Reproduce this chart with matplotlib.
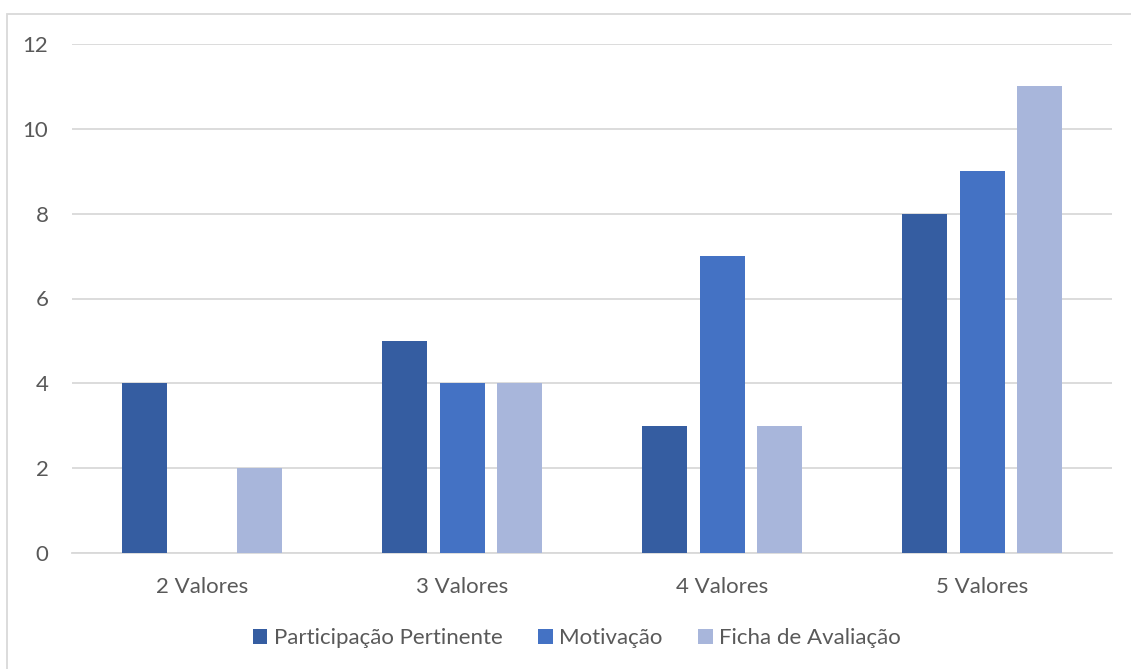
import matplotlib
matplotlib.use("Agg")
import matplotlib.pyplot as plt
from matplotlib.patches import Rectangle
import numpy as np

categories = ["2 Valores", "3 Valores", "4 Valores", "5 Valores"]
series_names = ["Participação Pertinente", "Motivação", "Ficha de Avaliação"]
participacao = [4, 5, 3, 8]
motivacao = [0, 4, 7, 9]
ficha = [2, 4, 3, 11]
yticks = [0, 2, 4, 6, 8, 10, 12]

colors = ["#355DA1", "#4472C4", "#A8B6DB"]
plt.rcParams['font.family'] = ['Lato', 'DejaVu Sans']

fig = plt.figure(figsize=(11.31, 6.69), dpi=100)
ax = fig.add_axes([72/1131, 116/669, 1040/1131, 509/669])

x = np.arange(len(categories))
w = 45/260
step = 57.5/260
for i, (vals, name) in enumerate(zip([participacao, motivacao, ficha], series_names)):
    ax.bar(x + (i - 1) * step, vals, width=w, color=colors[i], label=name, zorder=3)

ax.set_xlim(-0.5, 3.5)
ax.set_ylim(0, 12)
ax.set_yticks(yticks)
ax.set_xticks(x)
ax.set_xticklabels(categories)
ax.grid(axis='y', color='#D9D9D9', linewidth=1.3, zorder=0)
for s in ['top', 'right', 'left']:
    ax.spines[s].set_visible(False)
ax.spines['bottom'].set_color('#D9D9D9')
ax.spines['bottom'].set_linewidth(1.3)
ax.tick_params(axis='both', length=0, labelsize=16, labelcolor='#595959')
ax.tick_params(axis='y', pad=17)
ax.tick_params(axis='x', pad=17.5)

leg = fig.legend(loc='center', bbox_to_anchor=(577/1131, 1 - 638/669), ncol=3,
                 frameon=False, fontsize=16, handlelength=0.65, handleheight=0.65,
                 handletextpad=0.3, columnspacing=1.6)
for t in leg.get_texts():
    t.set_color('#595959')

fig.patches.append(Rectangle((7/1131, -0.01), 1.2, 1 - 14/669 + 0.01, transform=fig.transFigure,
                             fill=False, edgecolor='#D9D9D9', linewidth=1.3))

fig.savefig("out.png", dpi=100)
